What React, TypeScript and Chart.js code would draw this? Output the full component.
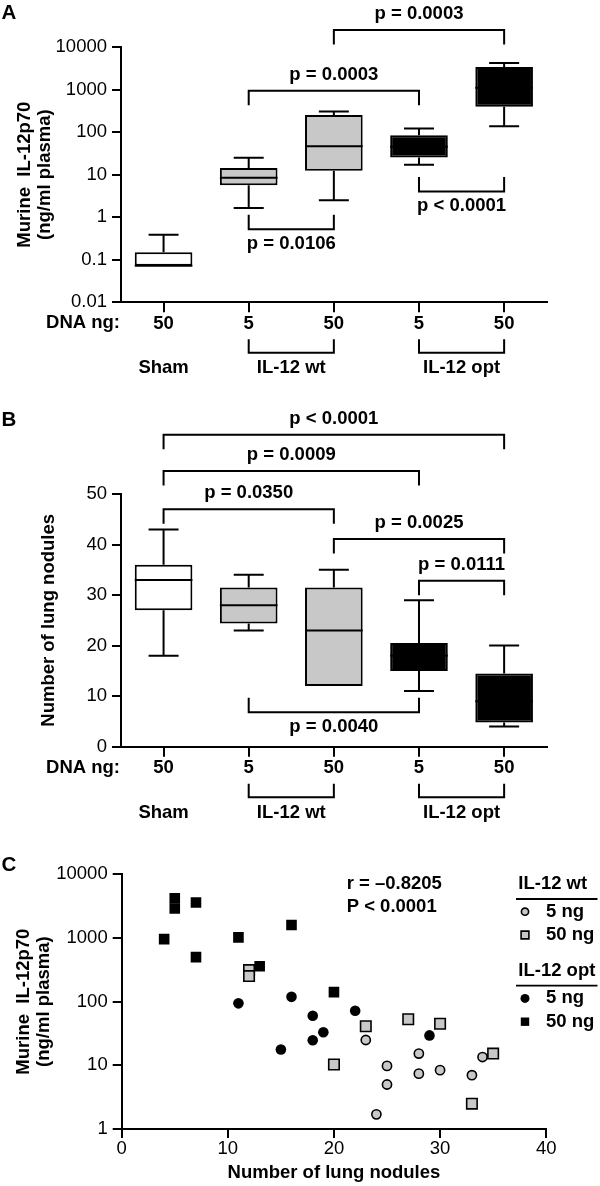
import React, { useEffect, useRef } from "react";
import { Chart, registerables } from "chart.js";
Chart.register(...registerables);

const FONT = "'Liberation Sans', Arial, Helvetica, sans-serif";
const FS = 18.5;
const GRAY = "#c8c8c8";
const INK = "#000000";

// ---- shared categories ----
const DNA_NG = ["50", "5", "50", "5", "50"];
const GROUP_NAMES = ["Sham", "IL-12 wt", "IL-12 opt"];
const GROUP_FROM = [0, 1, 3];
const GROUP_TO = [0, 2, 4];
const BOX_FILLS = ["#ffffff", GRAY, GRAY, "#000000", "#000000"];

// ---- panel A: IL-12p70 (ng/ml plasma) ----
const A_MIN = [0.072, 1.64, 2.49, 17.2, 138];
const A_Q1 = [0.072, 5.6, 12.4, 25.2, 394];
const A_MED = [0.072, 8.4, 46.6, 45, 1100];
const A_Q3 = [0.151, 14.4, 251, 84.7, 3390];
const A_MAX = [0.386, 24.8, 306, 122, 4210];
const A_TICKS = [0.01, 0.1, 1, 10, 100, 1000, 10000];
const A_BR_FROM = [2, 1, 1, 3];
const A_BR_TO = [4, 3, 2, 4];
const A_BR_Y = [25000, 940, 0.52, 4.0];
const A_BR_ABOVE = [true, true, false, false];
const A_BR_LABEL = ["p = 0.0003", "p = 0.0003", "p = 0.0106", "p < 0.0001"];

// ---- panel B: number of lung nodules ----
const B_MIN = [18, 23, 12, 11, 4];
const B_Q1 = [27, 24.4, 12, 15, 4.8];
const B_MED = [33, 28, 23, 18, 9];
const B_Q3 = [36, 31.5, 31.5, 20.5, 14.5];
const B_MAX = [43, 34, 35, 29, 20];
const B_TICKS = [0, 10, 20, 30, 40, 50];
const B_BR_FROM = [0, 0, 0, 2, 3, 1];
const B_BR_TO = [4, 3, 2, 4, 4, 3];
const B_BR_Y = [61.7, 54.55, 47.0, 41.1, 32.85, 6.8];
const B_BR_ABOVE = [true, true, true, true, true, false];
const B_BR_LABEL = ["p < 0.0001", "p = 0.0009", "p = 0.0350", "p = 0.0025", "p = 0.0111", "p = 0.0040"];

// ---- panel C: scatter ----
const WT5_X = [23, 25, 25, 24, 28, 28, 30, 33, 34];
const WT5_Y = [25, 9.8, 5, 1.7, 15.3, 7.4, 8.4, 7, 13.5];
const WT50_X = [12, 12, 23, 20, 27, 30, 33, 35];
const WT50_Y = [313, 252, 41, 10.3, 53, 45, 2.5, 15.3];
const OPT5_X = [11, 16, 18, 18, 19, 15, 22, 29];
const OPT5_Y = [94, 119, 60, 24.7, 33, 17.7, 72, 29.5];
const OPT50_X = [5, 5, 7, 4, 7, 11, 16, 13, 20];
const OPT50_Y = [4200, 2900, 3600, 960, 500, 1020, 1600, 360, 141];
const C_X_TICKS = [0, 10, 20, 30, 40];
const C_Y_TICKS = [1, 10, 100, 1000, 10000];

const bold = (s: number) => `bold ${s}px ${FONT}`;

function makeBoxPlugin(p: any) {
  return {
    id: "boxextras" + p.letter,
    beforeDatasetsDraw(chart: any) {
      const ctx = chart.ctx;
      const xs = chart.scales.x;
      const ys = chart.scales.y;
      ctx.save();
      ctx.strokeStyle = "#000";
      ctx.lineWidth = 2;
      for (let i = 0; i < p.q1.length; i++) {
        const x = xs.getPixelForValue(i);
        const half = 15;
        if (p.max[i] > p.q3[i]) {
          const yT = ys.getPixelForValue(p.max[i]);
          const yB = ys.getPixelForValue(p.q3[i]);
          ctx.beginPath();
          ctx.moveTo(x, yB);
          ctx.lineTo(x, yT);
          ctx.moveTo(x - half, yT);
          ctx.lineTo(x + half, yT);
          ctx.stroke();
        }
        if (p.min[i] < p.q1[i]) {
          const yT = ys.getPixelForValue(p.q1[i]);
          const yB = ys.getPixelForValue(p.min[i]);
          ctx.beginPath();
          ctx.moveTo(x, yT);
          ctx.lineTo(x, yB);
          ctx.moveTo(x - half, yB);
          ctx.lineTo(x + half, yB);
          ctx.stroke();
        }
      }
      ctx.restore();
    },
    afterDatasetsDraw(chart: any) {
      const ctx = chart.ctx;
      const xs = chart.scales.x;
      const ys = chart.scales.y;
      const meta = chart.getDatasetMeta(0);
      ctx.save();
      ctx.strokeStyle = "#000";
      ctx.lineWidth = 2;
      for (let i = 0; i < p.med.length; i++) {
        const el = meta.data[i];
        const x = xs.getPixelForValue(i);
        const w = el.width;
        const y = ys.getPixelForValue(p.med[i]);
        ctx.beginPath();
        ctx.moveTo(x - w / 2, y);
        ctx.lineTo(x + w / 2, y);
        ctx.stroke();
      }
      ctx.restore();
    },
    afterDraw(chart: any) {
      const ctx = chart.ctx;
      const xs = chart.scales.x;
      const ys = chart.scales.y;
      const area = chart.chartArea;
      ctx.save();
      ctx.strokeStyle = "#000";
      ctx.fillStyle = INK;
      ctx.lineWidth = 2;
      ctx.textBaseline = "middle";
      ctx.textAlign = "center";
      ctx.font = bold(FS);
      // significance brackets
      for (let i = 0; i < p.brFrom.length; i++) {
        const x1 = xs.getPixelForValue(p.brFrom[i]);
        const x2 = xs.getPixelForValue(p.brTo[i]);
        const y = ys.getPixelForValue(p.brY[i]);
        const dir = p.brAbove[i] ? 1 : -1;
        const leg = 14.5;
        ctx.beginPath();
        ctx.moveTo(x1, y + dir * leg);
        ctx.lineTo(x1, y);
        ctx.lineTo(x2, y);
        ctx.lineTo(x2, y + dir * leg);
        ctx.stroke();
        const ly = p.brAbove[i] ? y - 16 : y + 14.5;
        ctx.fillText(p.brLabel[i], (x1 + x2) / 2, ly);
      }
      // DNA ng row label
      const y0 = area.bottom;
      ctx.textAlign = "right";
      ctx.fillText("DNA ng:", area.left - 1, y0 + 21);
      // group brackets and names
      ctx.textAlign = "center";
      for (let g = 0; g < GROUP_NAMES.length; g++) {
        const x1 = xs.getPixelForValue(GROUP_FROM[g]);
        const x2 = xs.getPixelForValue(GROUP_TO[g]);
        if (GROUP_TO[g] > GROUP_FROM[g]) {
          ctx.beginPath();
          ctx.moveTo(x1, y0 + 37);
          ctx.lineTo(x1, y0 + 50.5);
          ctx.lineTo(x2, y0 + 50.5);
          ctx.lineTo(x2, y0 + 37);
          ctx.stroke();
        }
        ctx.fillText(GROUP_NAMES[g], (x1 + x2) / 2, y0 + 66);
      }
      // panel letter
      ctx.textAlign = "left";
      ctx.font = bold(20.5);
      ctx.fillText(p.letter, 1.5, p.letterY);
      ctx.restore();
    },
  };
}

function boxConfig(p: any): any {
  return {
    type: "bar",
    data: {
      labels: DNA_NG,
      datasets: [
        {
          data: p.q1.map((v: number, i: number) => [v, p.q3[i]]),
          backgroundColor: BOX_FILLS,
          borderColor: "#000",
          borderWidth: 2,
          borderSkipped: false,
          barPercentage: 0.677,
          categoryPercentage: 1,
        },
      ],
    },
    options: {
      responsive: false,
      animation: false,
      devicePixelRatio: 1,
      layout: { padding: { left: 0, right: 53.3, top: p.top, bottom: 0 } },
      plugins: { legend: { display: false }, tooltip: { enabled: false } },
      scales: {
        x: {
          type: "category",
          offset: true,
          grid: { offset: false, drawOnChartArea: false, drawTicks: true, tickLength: 10, color: "#000", lineWidth: 2 },
          border: { display: true, color: "#000", width: 2 },
          ticks: { font: { family: FONT, size: FS, weight: "bold", lineHeight: 1 }, color: INK, padding: 2, maxRotation: 0, autoSkip: false },
          afterFit: (s: any) => {
            s.height = p.xHeight;
          },
        },
        y: {
          type: p.log ? "logarithmic" : "linear",
          min: p.ticks[0],
          max: p.ticks[p.ticks.length - 1],
          afterBuildTicks: (s: any) => {
            s.ticks = p.ticks.map((v: number) => ({ value: v }));
          },
          ticks: {
            callback: (v: any) => String(v),
            font: { family: FONT, size: FS, lineHeight: 1 },
            color: INK,
            padding: 5,
            autoSkip: false,
          },
          grid: { drawOnChartArea: false, drawTicks: true, tickLength: 9, color: "#000", lineWidth: 2 },
          border: { display: true, color: "#000", width: 2 },
          title: {
            display: true,
            text: p.title,
            color: INK,
            font: { family: FONT, size: FS, weight: "bold", lineHeight: 20 / FS },
            padding: { top: p.titlePad, bottom: 0 },
          },
          afterFit: (s: any) => {
            s.width = 121;
          },
        },
      },
    },
    plugins: [makeBoxPlugin(p)],
  };
}

const cPlugin = {
  id: "cextras",
  afterDraw(chart: any) {
    const ctx = chart.ctx;
    const xs = chart.scales.x;
    const ys = chart.scales.y;
    ctx.save();
    ctx.fillStyle = INK;
    ctx.textBaseline = "middle";
    ctx.font = bold(FS);
    // correlation text
    const ax = xs.getPixelForValue(21.2);
    const ay = ys.getPixelForValue(7020);
    ctx.textAlign = "left";
    ctx.fillText("r = \u20130.8205", ax, ay);
    ctx.fillText("P < 0.0001", ax, ay + 22.7);
    // legend
    const lx = 518.3;
    const mx = 525;
    const tx = 546;
    const heads = ["IL-12 wt", "IL-12 opt"];
    const headY = [54, 140.7];
    const ds = chart.data.datasets;
    for (let h = 0; h < 2; h++) {
      const hy = headY[h];
      ctx.fillStyle = INK;
      ctx.fillText(heads[h], lx, hy);
      ctx.strokeStyle = "#000";
      ctx.lineWidth = 1.8;
      ctx.beginPath();
      ctx.moveTo(516, hy + 15);
      ctx.lineTo(597.5, hy + 15);
      ctx.stroke();
      for (let r = 0; r < 2; r++) {
        const d = ds[h * 2 + r];
        const ry = hy + 27.7 + r * 23.3;
        ctx.fillStyle = d.backgroundColor;
        ctx.strokeStyle = "#000";
        ctx.lineWidth = d.borderWidth || 0;
        ctx.beginPath();
        if (d.pointStyle === "circle") {
          ctx.arc(mx, ry, h === 0 ? 3.6 : 4.5, 0, Math.PI * 2);
        } else {
          const hs = h === 0 ? 3.9 : 4.2;
          ctx.rect(mx - hs, ry - hs, hs * 2, hs * 2);
        }
        ctx.fill();
        if (d.borderWidth) ctx.stroke();
        ctx.fillStyle = INK;
        ctx.fillText(r === 0 ? "5 ng" : "50 ng", tx, ry);
      }
    }
    ctx.font = bold(20.5);
    ctx.fillText("C", 1.5, 35.5);
    ctx.restore();
  },
};

function scatterConfig(): any {
  const pts = (xs: number[], ys: number[]) => xs.map((x, i) => ({ x, y: ys[i] }));
  return {
    type: "scatter",
    data: {
      datasets: [
        { label: "IL-12 wt 5 ng", data: pts(WT5_X, WT5_Y), pointStyle: "circle", pointRadius: 4.6, backgroundColor: GRAY, borderColor: "#000", borderWidth: 1.6 },
        { label: "IL-12 wt 50 ng", data: pts(WT50_X, WT50_Y), pointStyle: "rect", pointRadius: 7.4, backgroundColor: GRAY, borderColor: "#000", borderWidth: 1.6 },
        { label: "IL-12 opt 5 ng", data: pts(OPT5_X, OPT5_Y), pointStyle: "circle", pointRadius: 5.3, backgroundColor: "#000", borderColor: "#000", borderWidth: 0 },
        { label: "IL-12 opt 50 ng", data: pts(OPT50_X, OPT50_Y), pointStyle: "rect", pointRadius: 7.5, backgroundColor: "#000", borderColor: "#000", borderWidth: 0 },
      ],
    },
    options: {
      responsive: false,
      animation: false,
      devicePixelRatio: 1,
      layout: { padding: { left: 0, right: 53.8, top: 44.3, bottom: 0 } },
      plugins: { legend: { display: false }, tooltip: { enabled: false } },
      scales: {
        x: {
          type: "linear",
          min: 0,
          max: 40,
          afterBuildTicks: (s: any) => {
            s.ticks = C_X_TICKS.map((v) => ({ value: v }));
          },
          ticks: { font: { family: FONT, size: FS, lineHeight: 1 }, color: INK, padding: 2, maxRotation: 0, autoSkip: false },
          grid: { drawOnChartArea: false, drawTicks: true, tickLength: 9, color: "#000", lineWidth: 2 },
          border: { display: true, color: "#000", width: 2 },
          title: {
            display: true,
            text: "Number of lung nodules",
            color: INK,
            font: { family: FONT, size: FS, weight: "bold", lineHeight: 20 / FS },
            padding: { top: 0, bottom: 2.7 },
          },
          afterFit: (s: any) => {
            s.height = 57;
          },
        },
        y: {
          type: "logarithmic",
          min: 1,
          max: 10000,
          afterBuildTicks: (s: any) => {
            s.ticks = C_Y_TICKS.map((v) => ({ value: v }));
          },
          ticks: { callback: (v: any) => String(v), font: { family: FONT, size: FS, lineHeight: 1 }, color: INK, padding: 5, autoSkip: false },
          grid: { drawOnChartArea: false, drawTicks: true, tickLength: 9, color: "#000", lineWidth: 2 },
          border: { display: true, color: "#000", width: 2 },
          title: {
            display: true,
            text: ["Murine  IL-12p70", "(ng/ml plasma)"],
            color: INK,
            font: { family: FONT, size: FS, weight: "bold", lineHeight: 20 / FS },
            padding: { top: 14, bottom: 0 },
          },
          afterFit: (s: any) => {
            s.width = 121.7;
          },
        },
      },
    },
    plugins: [cPlugin],
  };
}

export default function App() {
  const aRef = useRef<HTMLCanvasElement>(null);
  const bRef = useRef<HTMLCanvasElement>(null);
  const cRef = useRef<HTMLCanvasElement>(null);

  useEffect(() => {
    const a = new Chart(
      aRef.current as HTMLCanvasElement,
      boxConfig({
        letter: "A",
        letterY: 13.7,
        log: true,
        ticks: A_TICKS,
        min: A_MIN,
        q1: A_Q1,
        med: A_MED,
        q3: A_Q3,
        max: A_MAX,
        brFrom: A_BR_FROM,
        brTo: A_BR_TO,
        brY: A_BR_Y,
        brAbove: A_BR_ABOVE,
        brLabel: A_BR_LABEL,
        top: 47,
        xHeight: 390 - 302.3,
        title: ["Murine  IL-12p70", "(ng/ml plasma)"],
        titlePad: 14.5,
      })
    );
    const b = new Chart(
      bRef.current as HTMLCanvasElement,
      boxConfig({
        letter: "B",
        letterY: 30,
        log: false,
        ticks: B_TICKS,
        min: B_MIN,
        q1: B_Q1,
        med: B_MED,
        q3: B_Q3,
        max: B_MAX,
        brFrom: B_BR_FROM,
        brTo: B_BR_TO,
        brY: B_BR_Y,
        brAbove: B_BR_ABOVE,
        brLabel: B_BR_LABEL,
        top: 104,
        xHeight: 440 - 356.7,
        title: "Number of lung nodules",
        titlePad: 38.5,
      })
    );
    const c = new Chart(cRef.current as HTMLCanvasElement, scatterConfig());
    return () => {
      a.destroy();
      b.destroy();
      c.destroy();
    };
  }, []);

  const cs = (top: number): React.CSSProperties => ({ position: "absolute", left: 0, top, display: "block" });
  return (
    <div style={{ position: "absolute", left: 0, top: 0, width: 600, height: 1186, background: "#fff" }}>
      <canvas ref={aRef} width={600} height={390} style={cs(0)} />
      <canvas ref={bRef} width={600} height={440} style={cs(390)} />
      <canvas ref={cRef} width={600} height={356} style={cs(830)} />
    </div>
  );
}
